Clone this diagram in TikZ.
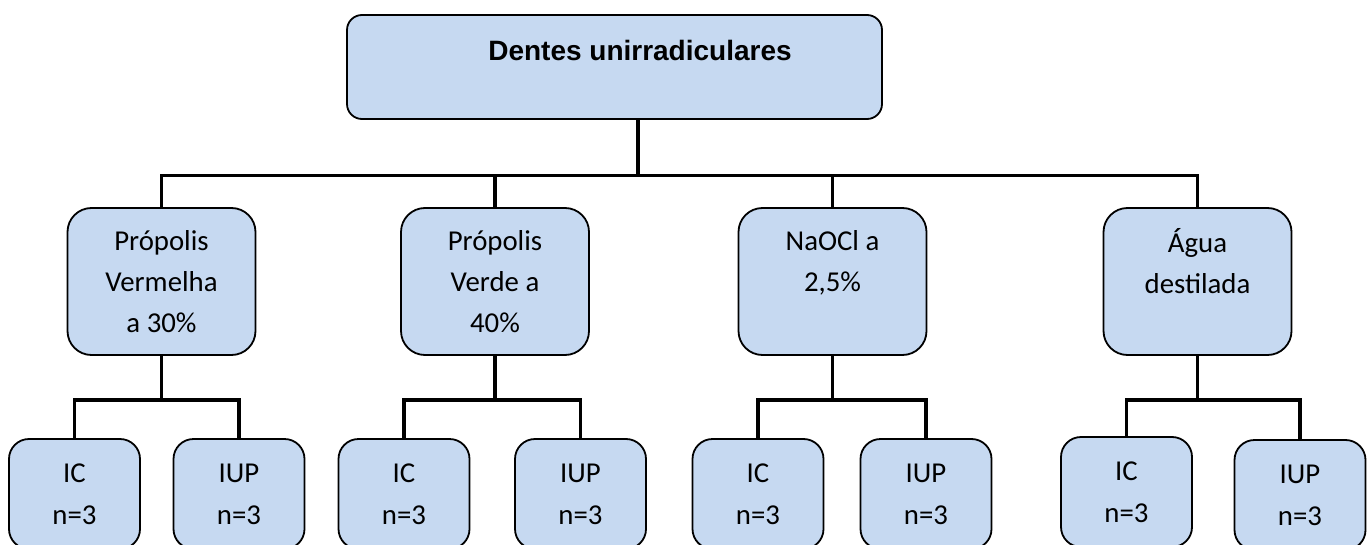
\documentclass[tikz,border=0pt]{standalone}
\usepackage{fontspec}
\setmainfont{Carlito}
\newfontfamily\titlefont{Liberation Sans}
\usetikzlibrary{positioning, calc}

\definecolor{caixaazul}{RGB}{198,217,241}

\begin{document}
\begin{tikzpicture}[
  x=0.5pt, y=-0.5pt,
  % Node Styles
  raiz/.style={rectangle, rounded corners=7.5pt, draw, line width=0.9pt, fill=caixaazul, text=black, minimum width=267.5pt, minimum height=52pt, align=center, font=\titlefont\bfseries\fontsize{14}{17}\selectfont},
  grupo/.style={rectangle, rounded corners=12pt, draw, line width=0.9pt, fill=caixaazul, text=black, minimum width=94pt, minimum height=73.5pt, align=center, font=\fontsize{14.4}{20.5}\selectfont},
  amostra/.style={rectangle, rounded corners=10pt, draw, line width=0.9pt, fill=caixaazul, text=black, minimum width=65.5pt, minimum height=55pt, align=center, font=\fontsize{14.4}{21}\selectfont},
  % Connector Style
  linha/.style={line width=1.6pt, black}
]
\useasboundingbox (0,0) rectangle (1368,545);

\node[raiz] (DU) at (614.5,67) {\hspace*{25.5pt}Dentes unirradiculares\\\mbox{}};
\coordinate (DUbase) at ($(DU.south)+(23.5,0)$);

\node[grupo] (PVm) at (161.5,281.5) {Própolis\\Vermelha\\a 30\%};
\node[grupo] (PVd) at (495,281.5) {Própolis\\Verde a\\40\%};
\node[grupo] (NaOCl) at (832.5,281.5) {NaOCl a\\2,5\%\\\mbox{}};
\node[grupo] (AD) at (1197.5,281.5) {Água\\destilada\\\mbox{}};

\node[amostra] (PVm_IC) at (74.5,494) {IC\\n=3};
\node[amostra] (PVm_IUP) at (239,494) {IUP\\n=3};
\node[amostra] (PVd_IC) at (404,494) {IC\\n=3};
\node[amostra] (PVd_IUP) at (580.5,494) {IUP\\n=3};
\node[amostra] (NaOCl_IC) at (758,494) {IC\\n=3};
\node[amostra] (NaOCl_IUP) at (926,494) {IUP\\n=3};
\node[amostra] (AD_IC) at (1126.5,492) {IC\\n=3};
\node[amostra] (AD_IUP) at (1300,495) {IUP\\n=3};

% Top level
\foreach \g in {PVm, PVd, NaOCl, AD}
  \draw[linha] (DUbase) -- ++(0,56) -| (\g.north);

% Second level
\foreach \g in {PVm, PVd, NaOCl, AD} {
  \draw[linha] (\g.south) -- ++(0,44) -| (\g_IC.north);
  \draw[linha] (\g.south) -- ++(0,44) -| (\g_IUP.north);
}

\end{tikzpicture}
\end{document}
